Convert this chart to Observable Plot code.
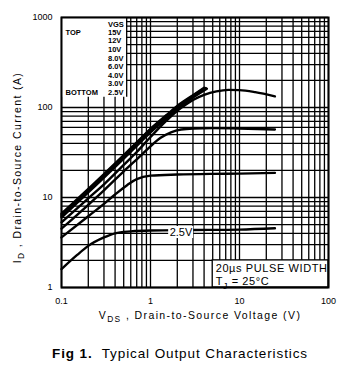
<!DOCTYPE html>
<html><head><meta charset="utf-8">
<script src="https://cdn.jsdelivr.net/npm/d3@7"></script>
<script src="https://cdn.jsdelivr.net/npm/@observablehq/plot@0.6"></script>
<style>
body{margin:0;background:#fff;}
#wrap{position:relative;width:360px;height:382px;font-family:"Liberation Sans",Arial,sans-serif;}
#cap{position:absolute;left:0;top:346px;width:360px;text-align:center;font-size:13.5px;letter-spacing:0.9px;color:#000;}
</style>
</head><body>
<div id="wrap"><div id="chart"></div><div id="cap"><b>Fig 1.</b>&nbsp; Typical Output Characteristics</div></div>
<script>
// ---- data ----
const xTickValues = [0.1, 1, 10, 100];
const xTickLabels = ["0.1", "1", "10", "100"];
const yTickValues = [1, 10, 100, 1000];
const yTickLabels = ["1", "10", "100", "1000"];
const xGrid = [0.1,0.2,0.3,0.4,0.5,0.6,0.7,0.8,0.9,1,2,3,4,5,6,7,8,9,10,20,30,40,50,60,70,80,90,100];
const yGrid = [1,2,3,4,5,6,7,8,9,10,20,30,40,50,60,70,80,90,100,200,300,400,500,600,700,800,900,1000];

const vgsNames = ["15V","12V","10V","8.0V","6.0V","4.0V","3.0V","2.5V"];
const vds15 = [0.1,0.2,0.3,0.5,0.7,1,1.5,2,3,4];
const id15  = [6.6,12.5,18.2,29.5,41,58,82,104,137,166];
const vds12 = [0.1,0.2,0.3,0.5,0.7,1,1.5,2,3,4.1];
const id12  = [6.4,12.2,17.8,28.8,40,57,80,102,135,165];
const vds10 = [0.1,0.2,0.3,0.5,0.7,1,1.5,2,3,4.2];
const id10  = [6.2,11.8,17.2,28,39,55,78,99,132,164];
const vds8  = [0.1,0.2,0.3,0.5,0.7,1,1.5,2,3,4.3];
const id8   = [6.0,11.4,16.6,27,37.5,53,75,96,129,162];
const vds6  = [0.1,0.2,0.3,0.5,0.7,1,1.5,2,2.5,3,4,5.5,7.5,10,15,25];
const id6   = [5.3,9.8,14,23,32,47,71,92,108,121,138,151,157,156,148,133];
const vds4  = [0.1,0.2,0.3,0.5,0.8,1,1.3,1.7,2.2,3,5,10,25];
const id4   = [4.5,8.3,12,19.5,30,37,46,53,57,58.5,59,58.5,57];
const vds3  = [0.1,0.2,0.3,0.4,0.55,0.7,1,2,5,10,25];
const id3   = [3.6,6.2,8.5,10.8,13.8,16,17.5,18,18.3,18.4,18.8];
const vds25 = [0.1,0.15,0.2,0.3,0.4,0.6,1,3,10,25];
const id25  = [1.6,2.3,2.9,3.6,4.0,4.2,4.3,4.35,4.4,4.55];

const legendTitle = "VGS";
const legendTop = "TOP";
const legendBottom = "BOTTOM";
const xLabel = "V_{DS} , Drain-to-Source Voltage (V)";
const yLabel = "I_{D} , Drain-to-Source Current (A)";
const noteLines = ["20\u00b5s PULSE WIDTH", "T_{J} = 25\u00b0C"];
const curveLabel = "2.5V";

// ---- tables built from the arrays ----
const series = [[vds15,id15],[vds12,id12],[vds10,id10],[vds8,id8],[vds6,id6],[vds4,id4],[vds3,id3],[vds25,id25]];
const rows = series.flatMap(([xs, ys], k) => xs.map((v, i) => ({vgs: vgsNames[k], vds: v, id: ys[i]})));

// annotation anchors in data units
const legendBox = [{x1: 0.1, x2: 0.54, y1: 130, y2: 1000}];
const legendRows = [legendTitle, ...vgsNames].map((t, i) => ({t, x: 0.333, y: [836,681,555,441,350,285,227,185,147][i]}));
const legendSide = [{t: legendTop, x: 0.111, y: 681}, {t: legendBottom, x: 0.111, y: 147}];
const noteBox = [{x1: 5, x2: 100, y1: 1, y2: 2}];
const noteRows = noteLines.map((t, i) => ({t, x: 5.4, y: [1.63, 1.16][i]}));
const labelBox = [{x1: 1.6, x2: 3.05, y1: 3.5, y2: 4.76}];
const labelRow = [{t: curveLabel, x: 2.2, y: 4.08}];

const chart = Plot.plot({
  width: 360, height: 330,
  marginLeft: 61, marginRight: 32, marginTop: 17, marginBottom: 43,
  style: {fontFamily: "'Liberation Sans', Arial, sans-serif", fontSize: "9px", background: "white", color: "black"},
  x: {type: "log", domain: [0.1, 100]},
  y: {type: "log", domain: [1, 1000]},
  marks: [
    Plot.ruleX(xGrid, {stroke: "black", strokeWidth: 1.3}),
    Plot.ruleY(yGrid, {stroke: "black", strokeWidth: 1.3}),
    Plot.rect(legendBox, {x1: "x1", x2: "x2", y1: "y1", y2: "y2", fill: "white"}),
    Plot.ruleX(legendBox, {x: "x2", y1: "y1", y2: "y2", stroke: "black", strokeWidth: 1.3}),
    Plot.rect(noteBox, {x1: "x1", x2: "x2", y1: "y1", y2: "y2", fill: "white", stroke: "black", strokeWidth: 1.3}),
    Plot.line(rows, {x: "vds", y: "id", z: "vgs", stroke: "black", strokeWidth: 2.4, curve: "monotone-x"}),
    Plot.rect(labelBox, {x1: "x1", x2: "x2", y1: "y1", y2: "y2", fill: "white"}),
    Plot.text(labelRow, {x: "x", y: "y", text: "t", fontSize: 11}),
    Plot.text(legendRows, {x: "x", y: "y", text: "t", textAnchor: "start", fontWeight: "bold", fontSize: 7.5}),
    Plot.text(legendSide, {x: "x", y: "y", text: "t", textAnchor: "start", fontWeight: "bold", fontSize: 7.5}),
    Plot.text(noteRows, {x: "x", y: "y", text: "t", textAnchor: "start", fontSize: 11, className: "note"}),
    Plot.frame({stroke: "black", strokeWidth: 2}),
    Plot.axisX(xTickValues, {tickSize: 0, tickPadding: 10, tickFormat: (d) => xTickLabels[xTickValues.indexOf(d)], label: null, fontSize: 9}),
    Plot.axisY(yTickValues, {tickSize: 0, tickPadding: 9, tickFormat: (d) => yTickLabels[yTickValues.indexOf(d)], label: null, fontSize: 9}),
    Plot.text([xLabel], {frameAnchor: "bottom", dy: 31, dx: 5, fontSize: 10.5, className: "axlab"}),
    Plot.text([yLabel], {frameAnchor: "left", textAnchor: "middle", rotate: -90, dx: -44, dy: 15, fontSize: 10.5, className: "axlab"})
  ]
});
document.getElementById("chart").appendChild(chart);

// subscripts
chart.querySelectorAll("text").forEach(t => {
  const s = t.textContent;
  if (!s.includes("_{")) return;
  const fs = parseFloat(getComputedStyle(t).fontSize) || 11;
  while (t.firstChild) t.removeChild(t.firstChild);
  const parts = s.split(/(_\{[^}]*\})/).filter(p => p.length);
  let shifted = false;
  parts.forEach(p => {
    const ts = document.createElementNS("http://www.w3.org/2000/svg", "tspan");
    if (p.startsWith("_{")) {
      ts.textContent = p.slice(2, -1);
      ts.setAttribute("font-size", (fs * 0.8) + "px");
      ts.setAttribute("dy", (fs * 0.3) + "px");
      shifted = true;
    } else {
      ts.textContent = p;
      if (shifted) { ts.setAttribute("dy", (-fs * 0.3) + "px"); shifted = false; }
    }
    t.appendChild(ts);
  });
});
chart.querySelectorAll(".note text").forEach(t => t.setAttribute("letter-spacing", "0.6px"));
chart.querySelectorAll(".axlab text").forEach(t => t.setAttribute("letter-spacing", "1.4px"));
</script>
</body></html>
